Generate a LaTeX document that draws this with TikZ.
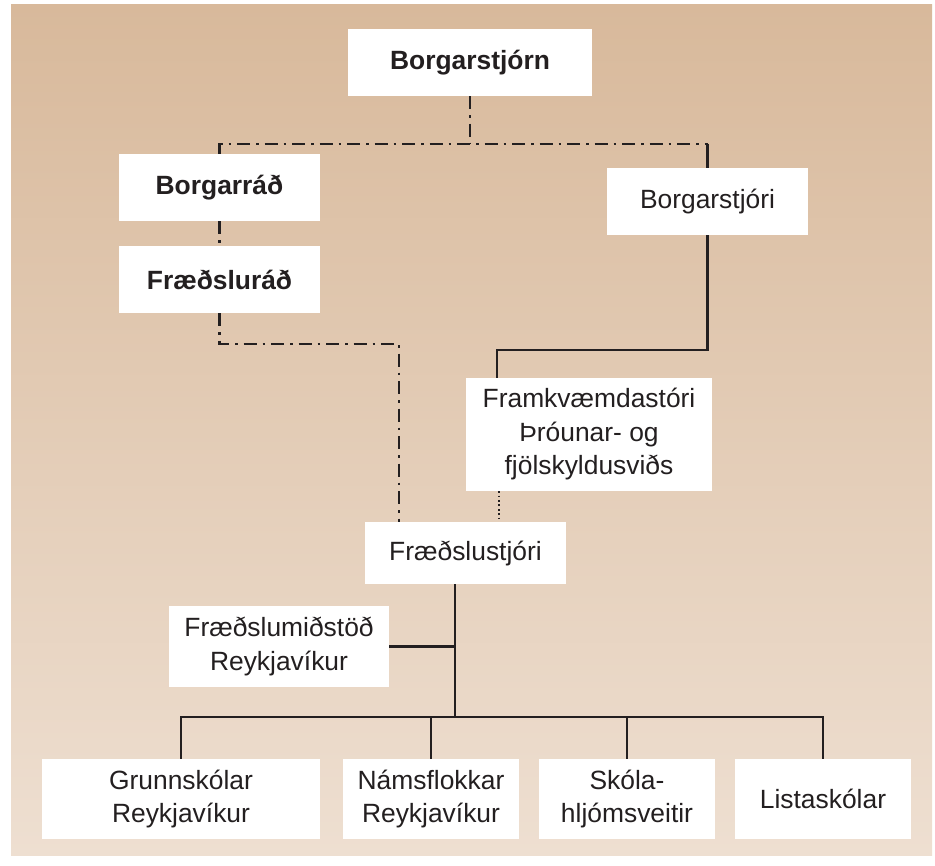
\documentclass[tikz,border=0pt]{standalone}
\usepackage{fontspec}
\setmainfont{Liberation Sans}
\definecolor{bgtop}{RGB}{216,185,155}
\definecolor{bgbot}{RGB}{238,223,209}
\definecolor{ink}{RGB}{35,31,32}
\tikzset{
  box/.style={draw=none, fill=white, text=ink, align=center, inner sep=0pt,
    font=\fontsize{26.4}{33.5}\selectfont},
  boldbox/.style={box, font=\fontsize{26.4}{33.5}\selectfont\bfseries},
  link/.style={draw=ink, line width=2.4pt},
  dd/.style={link, dash pattern=on 13pt off 6pt on 2.5pt off 6pt},
  dots/.style={draw=ink, line width=1.8pt, dash pattern=on 1.8pt off 2.6pt},
}
\begin{document}
\begin{tikzpicture}[x=1pt,y=-1pt]
\useasboundingbox (0,0) rectangle (935,866);
\shade[top color=bgtop, bottom color=bgbot] (11,5) rectangle (932,855);

\node[boldbox, minimum width=244pt, minimum height=67pt] (top) at (470,62.5) {Borgarstjórn};
\node[boldbox, minimum width=201pt, minimum height=67pt] (rad) at (219.5,187.5) {Borgarráð};
\node[boldbox, minimum width=201pt, minimum height=67pt] (frad) at (219.5,279.5) {Fræðsluráð};
\node[box, minimum width=201pt, minimum height=67pt] (stj) at (707.5,201.5) {Borgarstjóri};
\node[box, minimum width=246pt, minimum height=113pt] (fram) at (589,434.5) {Framkvæmdastóri\\Þróunar- og\\fjölskyldusviðs};
\node[box, minimum width=201pt, minimum height=62pt] (fstj) at (465.5,553) {Fræðslustjóri};
\node[box, minimum width=220pt, minimum height=81pt] (fmid) at (279,646.5) {Fræðslumiðstöð\\Reykjavíkur};
\node[box, minimum width=278pt, minimum height=80pt] (g) at (181,799) {Grunnskólar\\Reykjavíkur};
\node[box, minimum width=176pt, minimum height=80pt] (n) at (431,799) {Námsflokkar\\Reykjavíkur};
\node[box, minimum width=176pt, minimum height=80pt] (s) at (627,799) {Skóla-\\hljómsveitir};
\node[box, minimum width=176pt, minimum height=80pt] (l) at (823,799) {Listaskólar};

\coordinate (h1) at (0,144);
\coordinate (j2) at (399,344);
\coordinate (j3) at (497,350);
\coordinate (j4) at (499,0);
\coordinate (bar) at (455,717);

% dash-dot political line
\draw[dd] (top.south) -- (top.south |- h1);
\draw[dd] (rad.north) -- (rad.north |- h1) -- (stj.north |- h1);
\draw[link] (stj.north |- h1) -- (stj.north);
\draw[dd] (rad.south) -- (frad.north);
\draw[dd] (frad.south) |- (j2) -- (fstj.north -| j2);

% solid administrative line
\draw[link] (stj.south) |- (j3) -- (fram.north -| j3);
\draw[dots] (fram.south -| j4) -- (fstj.north -| j4);
\draw[link] (fstj.south -| bar) -- (bar);
\draw[link] (fmid.east) -- (fmid.east -| bar);
\draw[link] (g.north) |- (l.north |- bar) -- (l.north);
\draw[link] (n.north) -- (n.north |- bar);
\draw[link] (s.north) -- (s.north |- bar);
\end{tikzpicture}
\end{document}
